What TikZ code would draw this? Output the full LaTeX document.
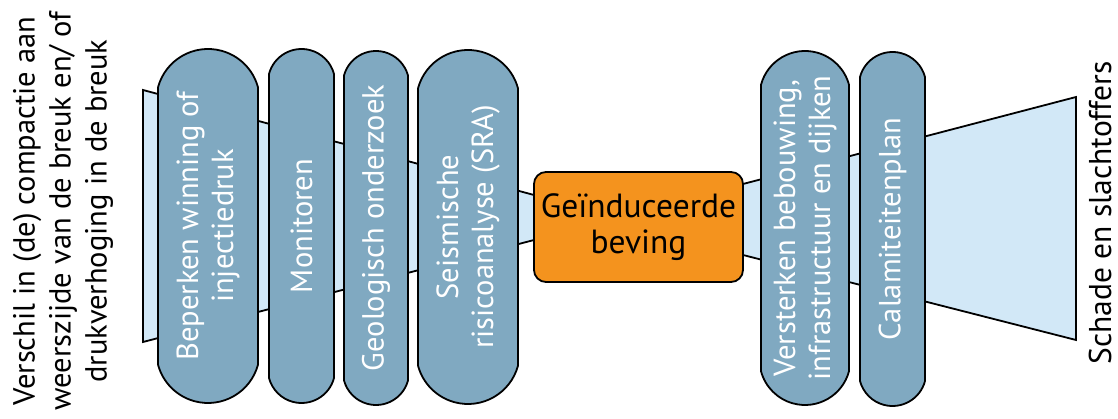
\documentclass[tikz,border=0pt]{standalone}
\usepackage{fontspec}
\setmainfont{PT Sans}
\usetikzlibrary{shapes.misc}
\definecolor{barblue}{RGB}{128,169,193}
\definecolor{funnel}{RGB}{210,232,247}
\definecolor{evorange}{RGB}{244,147,30}

\begin{document}
\begin{tikzpicture}[x=1pt,y=1pt,
	barrier/.style={rounded rectangle,rounded rectangle arc length=150,draw,line width=1.8pt,fill=barblue,text=white,rotate=90,minimum width=354pt,inner sep=0pt,align=center,font=\fontsize{30.5}{35}\selectfont},
	outline/.style={draw,line width=1.8pt,fill=funnel},
	label/.style={rotate=90,align=center,inner sep=0pt,font=\fontsize{31.5}{36}\selectfont}]
	\useasboundingbox (0,0) rectangle (1118,419);
	% funnels behind the barriers
	\draw [outline] (143,329) -- (534,224) -- (534,179) -- (143,77) -- cycle;
	\draw [outline] (743,235) -- (1076,322) -- (1076,79) -- (743,164) -- cycle;
	% cause and consequence
	\node (cause) [label,font=\fontsize{30.5}{36}\selectfont] at (63,208) {Verschil in (de) compactie aan\\weerszijde van de breuk en/ of\\drukverhoging in de breuk};
	\node (cons) [label] at (1100,206) {Schade en slachtoffers};
	% preventive barriers
	\node (bep) [barrier,minimum height=100pt] at (208,193) {Beperken winning of\\injectiedruk};
	\node (mon) [barrier,minimum height=65pt] at (301.5,193) {Monitoren};
	\node (geo) [barrier,minimum height=64pt] at (376,191) {Geologisch onderzoek};
	\node (sra) [barrier,minimum height=100pt] at (468,192) {Seismische\\risicoanalyse (SRA)};
	% top event
	\node (event) [draw,line width=1.8pt,fill=evorange,rounded corners=12pt,minimum width=209pt,minimum height=110pt,align=center,font=\fontsize{33.5}{36}\selectfont] at (638.5,192) {Geïnduceerde\\beving};
	% mitigating barriers
	\node (ver) [barrier,minimum height=88pt] at (805,191) {Versterken bebouwing,\\infrastructuur en dijken};
	\node (cal) [barrier,minimum height=65pt] at (892.5,190) {Calamiteitenplan};
\end{tikzpicture}
\end{document}
